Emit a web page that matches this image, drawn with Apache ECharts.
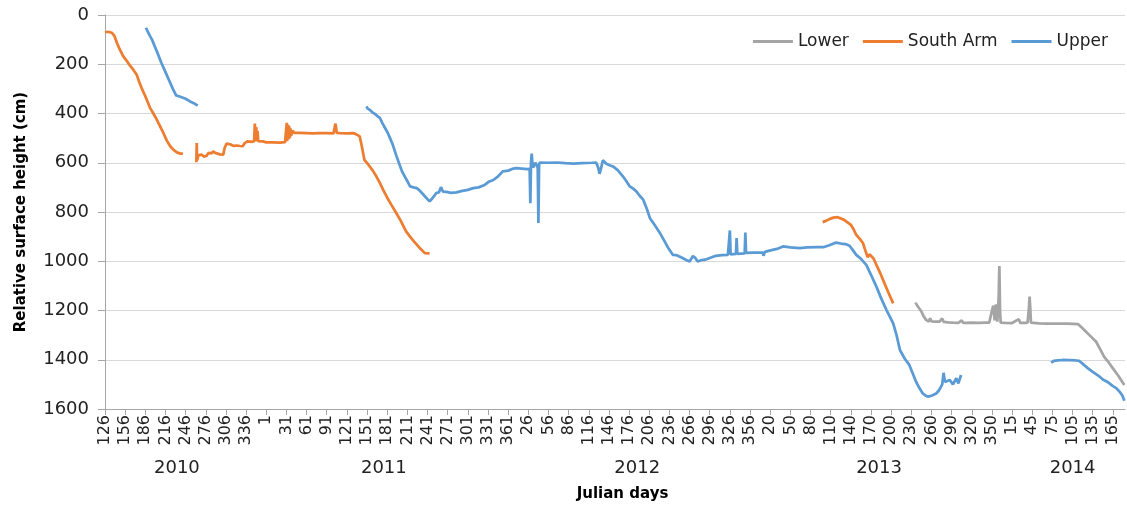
<!DOCTYPE html>
<html>
<head>
<meta charset="utf-8">
<script src="https://cdn.jsdelivr.net/npm/echarts@6/dist/echarts.min.js"></script>
<style>
html,body{margin:0;padding:0;background:#fff;}
#chart{width:1127px;height:512px;}
</style>
</head>
<body>
<div id="chart"></div>
<script>
// Day index = days since Julian day 126 of 2010
const tickLabels = ['126','156','186','216','246','276','306','336',
  '1','31','61','91','121','151','181','211','241','271','301','331','361',
  '26','56','86','116','146','176','206','236','266','296','326','356',
  '20','50','80','110','140','170','200','230','260','290','320','350',
  '15','45','75','105','135','165'];
const yearLabels = ['2010','2011','2012','2013','2014'];
const yearMidDays = [107, 415, 792, 1152, 1440];

const lowerDays = [1206,1210,1215,1218,1222,1226,1228,1230,1236,1242,1246,1248,1255,1262,1270,1275,1277,1282,1290,1300,1310,1316,1320,1322,1324,1326,1328,1330,1331,1332,1333,1340,1350,1360,1362,1370,1373,1375,1376,1377,1378,1390,1401,1415,1431,1440,1448,1454,1460,1467,1475,1481,1487,1494,1500,1508,1517];
const lowerValues = [1168,1185,1204,1222,1238,1245,1232,1244,1245,1245,1232,1246,1248,1249,1250,1240,1250,1250,1249,1250,1249,1249,1200,1180,1240,1175,1245,1150,1019,1200,1249,1250,1251,1235,1250,1250,1249,1190,1143,1190,1249,1252,1253,1253,1253,1254,1255,1270,1286,1305,1327,1357,1388,1412,1435,1465,1503];

const southDays = [0,5,10,14,18,22,27,32,37,42,47,51,55,60,67,72,77,82,87,92,97,102,107,112,116,
  126,
  136,136.5,137,139,141,144,147,151,154,158,161,164,166,171,176,178,181,183,186,191,196,201,205,208,212,218,222,223,224,225,226,227,228,230,235,240,250,260,268,270,270.5,271,272,273,274,275,276,277,279,282,290,300,310,320,330,340,343,345,350,360,369,372,376,379,382,386,392,398,404,409,414,420,426,433,440,448,454,460,468,476,483,
  700,
  1068,1073,1078,1084,1090,1095,1100,1105,1110,1114,1118,1123,1128,1132,1135,1138,1140,1144,1148,1154,1160,1166,1173];
const southValues = [70,68,72,85,115,140,167,185,205,222,242,272,300,330,377,400,425,452,480,510,533,548,558,563,563,
  null,
  598,520,590,570,578,567,575,572,560,562,554,560,567,566,567,540,522,528,525,531,530,532,533,520,513,515,512,441,513,455,510,470,512,513,513,517,517,518,516,515,438,512,445,505,450,500,460,490,470,479,479,480,481,480,480,481,441,479,480,481,480,482,488,493,530,588,608,630,656,682,710,742,770,802,835,879,900,920,945,967,968,
  null,
  841,836,829,823,821,826,832,842,852,870,893,908,926,960,983,972,965,990,1015,1050,1089,1128,1171];

const upperDays = [61,64,67,70,74,79,84,90,96,101,106,110,113,120,126,132,138,
  200,
  389,391,394,396,399,402,405,409,413,417,421,424,428,431,434,438,442,446,450,454,459,464,469,474,478,483,487,490,493,497,500,503,508,515,523,530,540,548,556,565,572,578,585,592,600,606,612,620,628,632,633,634,635,636,637,641,644,645,646,647,660,672,685,697,710,725,731,734,736,738,741,746,751,756,763,771,776,781,786,791,796,801,806,811,816,821,826,832,838,845,850,858,865,870,875,878,882,888,895,902,909,918,927,930,931,939,940,941,952,953,954,965,975,979,980,982,989,1000,1009,1020,1034,1045,1060,1069,1078,1088,1095,1102,1108,1113,1118,1125,1133,1140,1148,1155,1163,1168,1173,1178,1183,1190,1197,1202,1207,1212,1217,1221,1225,1231,1237,1241,1244,1246,1248,1250,1252,1257,1262,1267,1270,1274,
  1340,
  1408,1412,1418,1425,1435,1445,1450,1457,1463,1470,1477,1480,1485,1492,1500,1505,1510,1514,1517];
const upperValues = [52,70,86,100,127,160,195,232,269,300,327,330,333,340,350,358,368,
  null,
  371,380,385,392,398,402,410,418,440,460,480,499,525,550,574,605,635,655,675,696,700,703,715,730,742,757,745,735,723,720,699,717,718,722,720,715,710,703,700,690,676,670,655,635,632,625,622,624,626,625,764,600,563,600,620,600,620,845,610,599,600,599,602,604,602,600,599,620,645,625,590,604,610,615,630,656,675,696,705,717,735,750,785,825,845,865,886,915,945,974,975,985,995,1001,979,985,1001,995,992,985,978,975,974,875,972,970,906,970,968,883,966,965,965,965,978,962,957,950,940,944,947,944,943,943,935,924,928,930,937,955,974,990,1015,1055,1103,1150,1198,1225,1252,1300,1360,1395,1421,1455,1489,1515,1537,1545,1550,1545,1537,1525,1510,1500,1453,1490,1496,1482,1500,1475,1496,1462,
  null,
  1412,1405,1403,1401,1402,1403,1405,1421,1435,1449,1462,1468,1480,1490,1507,1515,1530,1545,1566];

function pairs(days, vals){ return days.map((d,i)=>[d, vals[i]]); }

const FONT = 'DejaVu Sans';
const chart = echarts.init(document.getElementById('chart'), null, {renderer:'canvas'});
const tickValues = tickLabels.map((_, i) => i * 30);

const lineSeries = (name, color, days, vals) => ({
  name, type:'line', data: pairs(days, vals), showSymbol:false, symbol:'none',
  connectNulls:false, animation:false,
  lineStyle:{color, width:2.75}, itemStyle:{color}
});

chart.setOption({
  animation:false,
  backgroundColor:'#ffffff',
  grid:{left:105, right:2, top:15, bottom:103, containLabel:false},
  legend:{
    data:['Lower','South Arm','Upper'],
    right:14, top:28, icon:'rect', itemWidth:40, itemHeight:3, itemGap:14,
    textStyle:{fontFamily:FONT, fontSize:17, color:'#222'}
  },
  xAxis:[{
    type:'value', min:0, max:1518,
    axisLine:{onZero:false, lineStyle:{color:'#a6a6a6', width:1}},
    axisTick:{show:true, length:6, lineStyle:{color:'#a6a6a6'}, customValues: tickValues},
    splitLine:{show:false},
    axisLabel:{rotate:90, margin:6, fontFamily:FONT, fontSize:16, color:'#222',
      customValues: tickValues,
      formatter: v => tickLabels[Math.round(v/30)] || ''}
  },{
    type:'value', min:0, max:1518, position:'bottom',
    axisLine:{show:false, onZero:false}, axisTick:{show:false}, splitLine:{show:false},
    axisLabel:{margin:50, fontFamily:FONT, fontSize:18, color:'#222',
      customValues: yearMidDays,
      formatter: v => yearLabels[yearMidDays.indexOf(Math.round(v))] || ''},
    name:'Julian days', nameLocation:'middle', nameGap:78,
    nameTextStyle:{fontFamily:FONT, fontSize:15, fontWeight:'bold', color:'#000', padding:[0,0,0,15]}
  }],
  yAxis:{
    type:'value', inverse:true, min:0, max:1600, interval:200,
    axisLine:{show:true, onZero:false, lineStyle:{color:'#a6a6a6'}},
    axisTick:{show:true, length:7, lineStyle:{color:'#a6a6a6'}},
    splitLine:{show:true, lineStyle:{color:'#d9d9d9', width:1}},
    axisLabel:{margin:16, fontFamily:FONT, fontSize:18, color:'#222', formatter: v => String(v)},
    name:'Relative surface height (cm)', nameLocation:'middle', nameGap:76,
    nameTextStyle:{fontFamily:FONT, fontSize:15, fontWeight:'bold', color:'#000'}
  },
  series:[
    lineSeries('Lower', '#A5A5A5', lowerDays, lowerValues),
    lineSeries('South Arm', '#ED7D31', southDays, southValues),
    lineSeries('Upper', '#5B9BD5', upperDays, upperValues)
  ]
});
</script>
</body>
</html>
